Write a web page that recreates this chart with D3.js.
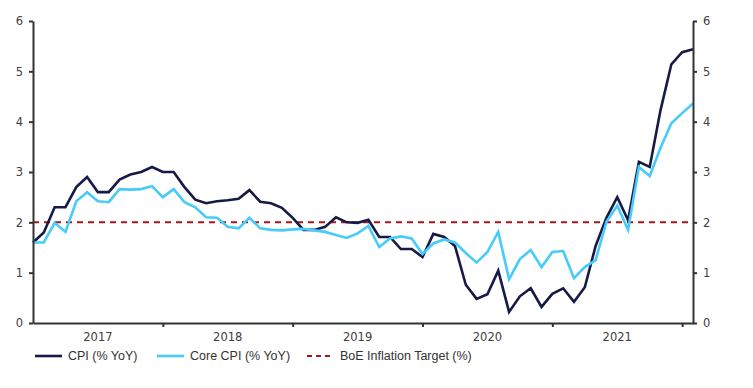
<!DOCTYPE html>
<html>
<head>
<meta charset="utf-8">
<script src="https://cdn.jsdelivr.net/npm/d3@7"></script>
<style>
  body { margin: 0; background: #fff; }
  .axis text { font-family: "DejaVu Sans", Verdana, sans-serif; font-size: 11.5px; fill: #404040; }
  .axis path, .axis line { stroke: #333; }
  .legend text { font-family: "Liberation Sans", Arial, sans-serif; font-size: 12.5px; fill: #333; }
</style>
</head>
<body>
<script>
// months Dec 2016 .. Jan 2022
const months = d3.timeMonth.range(new Date(2016, 11, 1), new Date(2022, 1, 1)).map(d3.timeFormat("%Y-%m"));

// CPI (% YoY)
const cpi = [1.6, 1.8, 2.3, 2.3, 2.7, 2.9, 2.6, 2.6, 2.85, 2.95, 3.0, 3.1,
  3.0, 3.0, 2.7, 2.45, 2.38, 2.42, 2.44, 2.47, 2.64, 2.41, 2.38, 2.29,
  2.09, 1.85, 1.85, 1.91, 2.1, 2.0, 1.99, 2.05, 1.71, 1.71, 1.47, 1.47,
  1.31, 1.77, 1.71, 1.53, 0.76, 0.48, 0.57, 1.04, 0.22, 0.53, 0.69, 0.32,
  0.58, 0.69, 0.42, 0.71, 1.53, 2.09, 2.5, 2.04, 3.2, 3.1, 4.23, 5.14,
  5.38, 5.44];

// Core CPI (% YoY)
const core = [1.6, 1.6, 1.99, 1.81, 2.42, 2.6, 2.42, 2.4, 2.66, 2.65, 2.66, 2.72,
  2.5, 2.66, 2.4, 2.3, 2.1, 2.09, 1.91, 1.88, 2.09, 1.88, 1.85, 1.84,
  1.86, 1.87, 1.84, 1.81, 1.75, 1.69, 1.78, 1.93, 1.51, 1.68, 1.72, 1.68,
  1.37, 1.58, 1.66, 1.6, 1.39, 1.2, 1.41, 1.81, 0.87, 1.27, 1.45, 1.11,
  1.41, 1.43, 0.89, 1.11, 1.25, 2.01, 2.33, 1.85, 3.1, 2.92, 3.48, 3.97,
  4.17, 4.36];

// BoE target
const target = 2;

const yTicks = [0, 1, 2, 3, 4, 5, 6];
const yearTicks = ["2017-12", "2018-12", "2019-12", "2020-12", "2021-12"];
const yearLabels = [["2017-06", "2017"], ["2018-06", "2018"], ["2019-06", "2019"], ["2020-06", "2020"], ["2021-06", "2021"]];

const series = [
  { name: "CPI (% YoY)", values: cpi, color: "#151a47" },
  { name: "Core CPI (% YoY)", values: core, color: "#46cbfb" }
];

const width = 753, height = 388;
const margin = { top: 21, right: 60, bottom: 65, left: 33 };

const svg = d3.select("body").append("svg")
  .attr("width", width)
  .attr("height", height);

const x = d3.scalePoint()
  .domain(months)
  .range([margin.left, width - margin.right]);

const y = d3.scaleLinear()
  .domain([0, 6])
  .range([height - margin.bottom, margin.top]);

// target line
svg.append("line")
  .attr("x1", x.range()[0])
  .attr("x2", x.range()[1])
  .attr("y1", y(target))
  .attr("y2", y(target))
  .attr("stroke", "#a8161b")
  .attr("stroke-width", 2)
  .attr("stroke-dasharray", "6,5");

// lines
const line = d3.line()
  .x((d, i) => x(months[i]))
  .y(d => y(d));

series.forEach(s => {
  svg.append("path")
    .datum(s.values)
    .attr("fill", "none")
    .attr("stroke", s.color)
    .attr("stroke-width", 2.6)
    .attr("stroke-linejoin", "miter")
    .attr("d", line);
});

// y axes
svg.append("g")
  .attr("class", "axis")
  .attr("transform", "translate(" + margin.left + ",0)")
  .call(d3.axisLeft(y).tickValues(yTicks).tickFormat(d3.format("d")).tickSize(4).tickSizeOuter(0).tickPadding(6))
  .call(g => g.selectAll("path, line").attr("stroke-width", 2));

svg.append("g")
  .attr("class", "axis")
  .attr("transform", "translate(" + (width - margin.right) + ",0)")
  .call(d3.axisRight(y).tickValues(yTicks).tickFormat(d3.format("d")).tickSize(4).tickSizeOuter(0).tickPadding(6))
  .call(g => g.selectAll("path, line").attr("stroke-width", 2));

// x axis
svg.append("g")
  .attr("class", "axis")
  .attr("transform", "translate(0," + (height - margin.bottom) + ")")
  .call(d3.axisBottom(x).tickValues(yearTicks).tickSize(4).tickSizeOuter(0).tickFormat(""))
  .call(g => g.selectAll("path, line").attr("stroke-width", 2));

svg.append("g")
  .attr("class", "axis")
  .selectAll("text")
  .data(yearLabels)
  .enter().append("text")
  .attr("x", d => x(d[0]))
  .attr("y", height - margin.bottom + 18)
  .attr("text-anchor", "middle")
  .text(d => d[1]);

// legend
const legendItems = [
  { name: "CPI (% YoY)", color: "#151a47", dash: null, x: 35 },
  { name: "Core CPI (% YoY)", color: "#46cbfb", dash: null, x: 157 },
  { name: "BoE Inflation Target (%)", color: "#a8161b", dash: "5,4", x: 307 }
];

const lg = svg.append("g")
  .attr("class", "legend")
  .selectAll("g")
  .data(legendItems)
  .enter().append("g")
  .attr("transform", d => "translate(" + d.x + ",356)");

lg.append("line")
  .attr("x1", 0).attr("x2", 27)
  .attr("stroke", d => d.color)
  .attr("stroke-width", d => d.dash ? 2 : 2.6)
  .attr("stroke-dasharray", d => d.dash);

lg.append("text")
  .attr("x", 33)
  .attr("dy", "0.35em")
  .text(d => d.name);
</script>
</body>
</html>
